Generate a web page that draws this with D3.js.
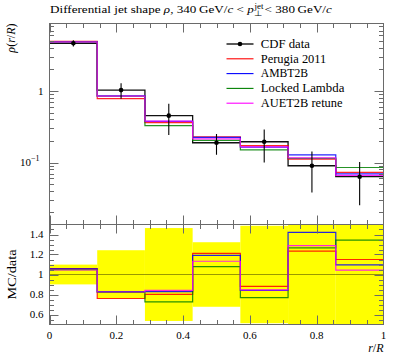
<!DOCTYPE html>
<html><head><meta charset="utf-8">
<script src="https://cdn.jsdelivr.net/npm/d3@7"></script>
<style>body{margin:0;background:#fff} svg{display:block} text{font-family:"Liberation Serif",serif;fill:#000}</style>
</head><body><svg id="c" width="397" height="358"></svg>
<script>
// ---- data ----
const binEdges = [0, 0.142857, 0.285714, 0.428571, 0.571429, 0.714286, 0.857143, 1];
const dataVals = [4.65, 1.03, 0.452, 0.189, 0.195, 0.090, 0.0633];
const dataErr  = [0.46, 0.25, 0.21, 0.061, 0.095, 0.052, 0.038];
const perugia  = [4.93, 0.783, 0.362, 0.229, 0.172, 0.111, 0.0728];
const ambt2b   = [4.91, 0.855, 0.375, 0.225, 0.164, 0.128, 0.0694];
const locked   = [4.88, 0.845, 0.328, 0.204, 0.150, 0.114, 0.0851];
const auet2b   = [4.86, 0.850, 0.380, 0.214, 0.165, 0.116, 0.0661];
const seriesNames = ["Perugia 2011", "AMBT2B", "Locked Lambda", "AUET2B retune"];
const seriesColors = ["#ff0000", "#0000ff", "#008000", "#ff00ff"];
const xTicks = [0, 0.2, 0.4, 0.6, 0.8, 1];
const xTickLabels = ["0", "0.2", "0.4", "0.6", "0.8", "1"];
const ratioTicks = [0.6, 0.8, 1, 1.2, 1.4];
const ratioTickLabels = ["0.6", "0.8", "1", "1.2", "1.4"];
const mainYDomain = [0.01358, 8.79];
const ratioDomain = [0.5, 1.5];

const series = [perugia, ambt2b, locked, auet2b].map((v, i) => ({name: seriesNames[i], vals: v, color: seriesColors[i]}));

// ---- layout ----
const L = 49.5, R = 383.5, T = 23.5, M = 224.5, B = 324.5;
const svg = d3.select("#c");
const x = d3.scaleLinear().domain([0, 1]).range([L, R]);
const y = d3.scaleLog().domain(mainYDomain).range([M, T]);
const yr = d3.scaleLinear().domain(ratioDomain).range([B, M]);
const frameCol = "#6a6a6a";

const defs = svg.append("defs");
defs.append("clipPath").attr("id", "cm").append("rect").attr("x", L).attr("y", T).attr("width", R - L).attr("height", M - T);
defs.append("clipPath").attr("id", "cr").append("rect").attr("x", L).attr("y", M).attr("width", R - L).attr("height", B - M);

function stepPts(vals) {
  const p = [];
  vals.forEach((v, i) => { p.push([binEdges[i], v]); p.push([binEdges[i + 1], v]); });
  return p;
}

// ---- main panel ----
const gm = svg.append("g").attr("clip-path", "url(#cm)");
const lineMain = d3.line().x(d => x(d[0])).y(d => y(d[1]));
gm.append("path").attr("d", lineMain(stepPts(dataVals))).attr("fill", "none").attr("stroke", "#111").attr("stroke-width", 1.3);
series.forEach(s => {
  gm.append("path").attr("d", lineMain(stepPts(s.vals))).attr("fill", "none").attr("stroke", s.color).attr("stroke-width", 1.2).attr("stroke-opacity", 0.85);
});
dataVals.forEach((v, i) => {
  const cx = x((binEdges[i] + binEdges[i + 1]) / 2);
  gm.append("line").attr("x1", cx).attr("x2", cx).attr("y1", y(v + dataErr[i])).attr("y2", y(Math.max(v - dataErr[i], 1e-4)))
    .attr("stroke", "#000").attr("stroke-width", 1.1);
  gm.append("circle").attr("cx", cx).attr("cy", y(v)).attr("r", 2.3).attr("fill", "#000");
});

// ---- ratio panel ----
const gr = svg.append("g").attr("clip-path", "url(#cr)");
dataVals.forEach((v, i) => {
  const rel = dataErr[i] / v;
  gr.append("rect").attr("x", x(binEdges[i])).attr("width", x(binEdges[i + 1]) - x(binEdges[i]))
    .attr("y", yr(1 + rel)).attr("height", yr(1 - rel) - yr(1 + rel)).attr("fill", "#ffff00");
});
gr.append("line").attr("x1", L).attr("x2", R).attr("y1", yr(1)).attr("y2", yr(1)).attr("stroke", "#000").attr("stroke-opacity", 0.4).attr("stroke-width", 1);
const lineRatio = d3.line().x(d => x(d[0])).y(d => yr(d[1]));
series.forEach(s => {
  const r = s.vals.map((v, i) => v / dataVals[i]);
  gr.append("path").attr("d", lineRatio(stepPts(r))).attr("fill", "none").attr("stroke", s.color).attr("stroke-width", 1.2).attr("stroke-opacity", 0.85);
});

// ---- frames & ticks ----
const ga = svg.append("g").attr("stroke", frameCol).attr("stroke-width", 1).attr("fill", "none");
[[T, M], [M, B]].forEach(([t, b]) => ga.append("rect").attr("x", L).attr("y", t).attr("width", R - L).attr("height", b - t));
function tick(x1, y1, x2, y2) { ga.append("line").attr("x1", x1).attr("y1", y1).attr("x2", x2).attr("y2", y2); }
const xMinor = d3.range(0, 1.0001, 0.05);
const isMajorX = v => Math.abs(v * 5 - Math.round(v * 5)) < 1e-6;
xMinor.forEach(v => {
  const px = Math.round(x(v)) + 0.5 - (v === 1 ? 1 : 0);
  const len = isMajorX(v) ? 9 : 4.5;
  tick(px, T, px, T + len);
  tick(px, M, px, M - len);
  tick(px, M, px, M + len);
  tick(px, B, px, B - len);
});
// main log ticks
const logMajor = [0.1, 1];
const logMinor = [];
[0.01, 0.1, 1].forEach(d => { for (let k = 2; k <= 9; k++) logMinor.push(k * d); });
logMinor.filter(v => v > mainYDomain[0] && v < mainYDomain[1]).forEach(v => {
  const py = Math.round(y(v)) + 0.5;
  tick(L, py, L + 4.5, py); tick(R, py, R - 4.5, py);
});
logMajor.forEach(v => {
  const py = Math.round(y(v)) + 0.5;
  tick(L, py, L + 9, py); tick(R, py, R - 9, py);
});
// ratio ticks
d3.range(0.55, 1.4501, 0.05).forEach(v => {
  const py = Math.round(yr(v)) + 0.5;
  const major = ratioTicks.some(t => Math.abs(t - v) < 1e-6);
  const len = major ? 9 : 4.5;
  tick(L, py, L + len, py); tick(R, py, R - len, py);
});

// ---- labels ----
const fs = 10.5;
xTicks.forEach((v, i) => {
  svg.append("text").attr("x", x(v)).attr("y", 338.5).attr("text-anchor", "middle").attr("font-size", fs + 0.5).text(xTickLabels[i]);
});
ratioTicks.forEach((v, i) => {
  svg.append("text").attr("x", 43.5).attr("y", yr(v) + 3.7).attr("text-anchor", "end").attr("font-size", fs + 0.5).text(ratioTickLabels[i]);
});
svg.append("text").attr("x", 43.5).attr("y", y(1) + 3.8).attr("text-anchor", "end").attr("font-size", fs + 0.5).text("1");
const t10 = svg.append("text").attr("x", 20).attr("y", y(0.1) + 3.5).attr("font-size", fs + 0.5);
t10.append("tspan").text("10");
t10.append("tspan").attr("dy", -5).attr("font-size", 8).text("\u22121");

// stretch helper
function fitGroup(g, x0, y0, w) {
  const bb = g.node().getBBox();
  g.attr("transform", `translate(${x0 - bb.x * w / bb.width},${y0}) scale(${w / bb.width},1)`);
}

// title
const gt = svg.append("g");
const tt = gt.append("text").attr("x", 0).attr("y", 0).attr("font-size", 11);
tt.append("tspan").text("Differential jet shape ");
tt.append("tspan").attr("font-style", "italic").text("\u03c1");
tt.append("tspan").text(", 340\u2009GeV/");
tt.append("tspan").attr("font-style", "italic").text("c");
tt.append("tspan").text(" < ");
tt.append("tspan").attr("font-style", "italic").text("p");
const w1 = tt.node().getComputedTextLength();
const sup = gt.append("text").attr("x", w1 + 0.5).attr("y", -4).attr("font-size", 7.5).text("jet");
gt.append("text").attr("x", w1 + 0.5).attr("y", 3).attr("font-size", 7.5).text("\u22a5");
const w2 = sup.node().getComputedTextLength();
const t3 = gt.append("text").attr("x", w1 + w2 + 1.5).attr("y", 0).attr("font-size", 11);
t3.append("tspan").text(" < 380\u2009GeV/");
t3.append("tspan").attr("font-style", "italic").text("c");
fitGroup(gt, 50, 12.5, 282);

// y label main
const gyl = svg.append("g").attr("transform", "translate(14.5,23.5) rotate(-90)");
const yl = gyl.append("text").attr("text-anchor", "end").attr("font-size", 12);
yl.append("tspan").attr("font-style", "italic").text("\u03c1");
yl.append("tspan").text("(");
yl.append("tspan").attr("font-style", "italic").text("r");
yl.append("tspan").text("/");
yl.append("tspan").attr("font-style", "italic").text("R");
yl.append("tspan").text(")");

// y label ratio
svg.append("g").attr("transform", `translate(15.5,${yr(1)}) rotate(-90)`)
  .append("text").attr("text-anchor", "middle").attr("font-size", 12).attr("textLength", 50).attr("lengthAdjust", "spacingAndGlyphs").text("MC/data");

// x label
const xl = svg.append("text").attr("x", 383.5).attr("y", 351.5).attr("text-anchor", "end").attr("font-size", 12);
xl.append("tspan").attr("font-style", "italic").text("r");
xl.append("tspan").text("/");
xl.append("tspan").attr("font-style", "italic").text("R");

// ---- legend ----
const legNames = ["CDF data"].concat(seriesNames);
const legColors = ["#000"].concat(seriesColors);
const legWidths = [49.3, 66, 47.7, 83.7, 82];
legNames.forEach((n, i) => {
  const cy = 44 + i * 14.8;
  svg.append("line").attr("x1", 226.5).attr("x2", 253.5).attr("y1", cy).attr("y2", cy).attr("stroke", legColors[i]).attr("stroke-width", i === 0 ? 1.3 : 1.1);
  if (i === 0) svg.append("circle").attr("cx", 240).attr("cy", cy).attr("r", 2.3).attr("fill", "#000");
  const g = svg.append("g");
  g.append("text").attr("x", 0).attr("y", 0).attr("font-size", 11.5).text(n);
  fitGroup(g, 260.7, cy + 3.8, legWidths[i]);
});
</script></body></html>
